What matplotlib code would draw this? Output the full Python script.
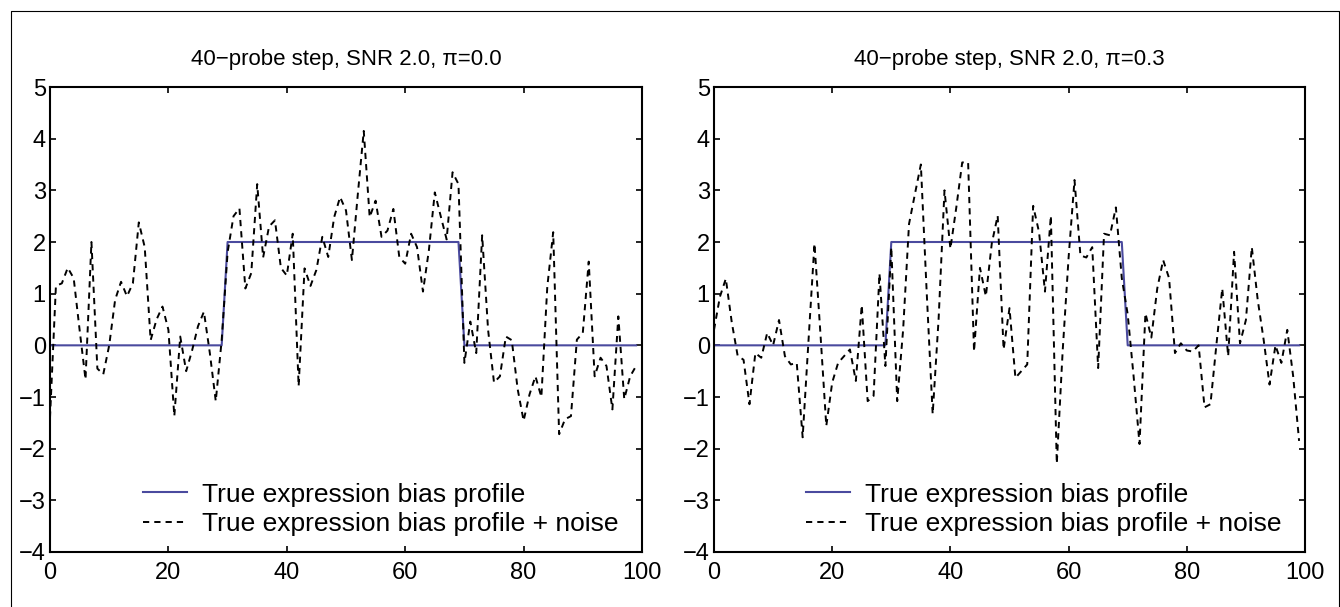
import numpy as np
import matplotlib
matplotlib.use('Agg')
import matplotlib.pyplot as plt
from matplotlib.lines import Line2D

plt.rcParams['font.family'] = ['Liberation Sans', 'DejaVu Sans']

# probe index and the true step profile (40 probes at bias 2)
probes = np.arange(100)
true_profile = [0.0] * 30 + [2.0] * 40 + [0.0] * 30

# noisy profile, pi=0.0
noisy_pi00 = [-1.4, 1.15, 1.2, 1.5, 1.3, 0.3, -0.66, 2.0, -0.45, -0.56,
              0.0, 0.88, 1.23, 0.95, 1.2, 2.38, 1.9, 0.1, 0.5, 0.75,
              0.3, -1.37, 0.17, -0.5, -0.1, 0.37, 0.65, -0.15, -1.08, 0.1,
              1.8, 2.5, 2.65, 1.1, 1.4, 3.12, 1.7, 2.3, 2.42, 1.5,
              1.35, 2.16, -0.79, 1.49, 1.15, 1.46, 2.1, 1.71, 2.48, 2.87,
              2.61, 1.65, 2.93, 4.15, 2.48, 2.8, 2.1, 2.22, 2.64, 1.71,
              1.58, 2.16, 1.9, 1.04, 1.84, 2.96, 2.5, 2.05, 3.35, 3.12,
              -0.34, 0.46, -0.15, 2.13, 0.3, -0.72, -0.6, 0.17, 0.1, -0.85,
              -1.46, -0.95, -0.6, -1.0, 1.13, 2.19, -1.72, -1.43, -1.37, 0.11,
              0.24, 1.62, -0.6, -0.24, -0.4, -1.24, 0.56, -1.04, -0.6, -0.4]

# noisy profile, pi=0.3
noisy_pi03 = [0.3, 0.94, 1.29, 0.45, -0.2, -0.28, -1.14, -0.15, -0.24, 0.24,
              0.0, 0.49, -0.21, -0.37, -0.34, -1.78, 0.11, 1.97, 0.24, -1.56,
              -0.72, -0.34, -0.21, -0.08, -0.69, 0.78, -1.08, -0.98, 1.39, -0.4,
              1.9, -1.08, 0.3, 2.35, 2.93, 3.5, 1.0, -1.33, 0.5, 3.0,
              1.87, 2.67, 3.54, 3.54, -0.12, 1.5, 0.95, 1.97, 2.51, -0.08,
              0.72, -0.63, -0.5, -0.37, 2.7, 2.19, 1.04, 2.51, -2.29, -0.1,
              1.7, 3.2, 1.74, 1.7, 1.9, -0.44, 2.16, 2.13, 2.67, 1.3,
              0.6, -0.6, -1.91, 0.62, 0.15, 1.1, 1.65, 1.3, -0.15, 0.04,
              -0.1, -0.12, 0.0, -1.2, -1.14, 0.0, 1.1, -0.21, 1.81, 0.04,
              0.49, 1.9, 0.88, 0.11, -0.76, 0.0, -0.34, 0.3, -0.6, -1.85]

titles = ['40\u2212probe step, SNR 2.0, \u03c0=0.0',
          '40\u2212probe step, SNR 2.0, \u03c0=0.3']
legend_labels = ['True expression bias profile',
                 'True expression bias profile + noise']

W, H = 1340, 607
fig = plt.figure(figsize=(W / 100, H / 100), dpi=100)

# axes boxes in pixels: left, right
boxes = [(50, 642), (714, 1305)]
top_px, bot_px = 87, 552

for (x0, x1), noisy, title in zip(boxes, [noisy_pi00, noisy_pi03], titles):
    ax = fig.add_axes([x0 / W, (H - bot_px) / H, (x1 - x0) / W, (bot_px - top_px) / H])
    ax.plot(probes, true_profile, color='#4a4a9e', linewidth=1.5, label=legend_labels[0])
    ax.plot(probes, noisy, color='black', linewidth=1.4, linestyle=(0, (3.2, 2.6)),
            label=legend_labels[1])
    ax.set_xlim(0, 100)
    ax.set_ylim(-4, 5)
    ax.set_xticks([0, 20, 40, 60, 80, 100])
    ax.set_yticks(range(-4, 6))
    ax.tick_params(axis='both', direction='in', length=4.5, width=1.2, top=True, right=True,
                   labelsize=17)
    ax.tick_params(axis='x', pad=7)
    ax.tick_params(axis='y', pad=3)
    for sp in ax.spines.values():
        sp.set_linewidth(1.5)
    ax.set_title(title, fontsize=16, pad=16)
    ax.legend(loc='lower right', bbox_to_anchor=(0.978, 0.012), borderaxespad=0,
              frameon=False, fontsize=19, handlelength=1.7, handletextpad=0.55,
              labelspacing=0.2)

# thin frame round the figure (no bottom edge)
fx0, fx1, fy1 = 11 / W, 1338.5 / W, 1 - 11 / H
fig.add_artist(Line2D([fx0, fx0, fx1, fx1], [0, fy1, fy1, 0],
                      transform=fig.transFigure, color='black', linewidth=0.8))

fig.savefig('out.png', dpi=100)
